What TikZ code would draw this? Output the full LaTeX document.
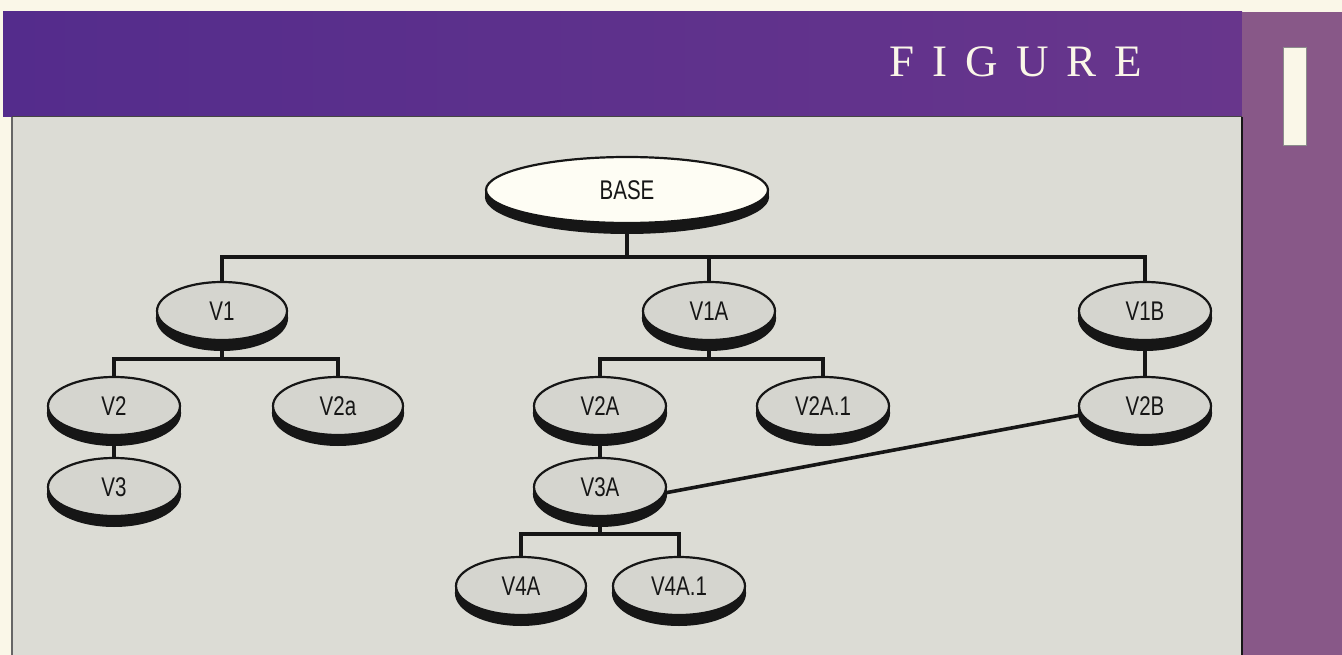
\documentclass[tikz,border=0pt]{standalone}
\usepackage{fontspec}
\usepackage{graphicx}
\usetikzlibrary{shapes.geometric}
\newfontfamily\labelfont{Liberation Sans}
\newfontfamily\figfont[LetterSpace=40]{Liberation Serif}
\newcommand{\narrow}[1]{\scalebox{0.76}[1]{#1}}
\definecolor{cream}{RGB}{250,247,232}
\definecolor{bandL}{RGB}{84,44,140}
\definecolor{bandR}{RGB}{104,54,140}
\definecolor{mauve}{RGB}{136,88,136}
\definecolor{panel}{RGB}{220,220,213}
\definecolor{ovalfill}{RGB}{213,213,207}
\definecolor{basefill}{RGB}{254,253,244}
\definecolor{ink}{RGB}{22,22,22}
\tikzset{
  ovalnode/.style={ellipse, draw=ink, line width=2.2pt, fill=ovalfill, inner sep=0pt,
    font=\labelfont\fontsize{27}{27}\selectfont, text=ink},
  conn/.style={draw=ink, line width=4pt},
}
% #1 name, #2 x, #3 y, #4 rx, #5 ry, #6 label, #7 fill
\newcommand{\ovalat}[7]{%
  \fill[ink] (#2-#4-1.1,#3) rectangle (#2+#4+1.1,#3+7);
  \fill[ink] (#2,#3+7) ellipse [x radius=#4+1.1, y radius=#5+4];
  \node[ovalnode, fill=#7, minimum width=2*#4 pt, minimum height=2*#5 pt] (#1) at (#2,#3) {\narrow{#6}};
}
\begin{document}
\begin{tikzpicture}[x=1pt,y=-1pt]
\useasboundingbox (0,0) rectangle (1342,655);
% background
\fill[cream] (0,0) rectangle (1342,655);
\shade[left color=bandL, right color=bandR] (3,12) rectangle (1242,117);
\fill[mauve] (1242,12) rectangle (1342,655);
\fill[panel] (12,117) rectangle (1242,655);
\draw[black!60, line width=1.2pt] (12,117) -- (12,655);
\draw[ink, line width=1.2pt] (1242,117) -- (1242,655);
\draw[ink!80, line width=1pt] (12,117) -- (1242,117);
\fill[cream, draw=black!45, line width=0.6pt] (1283,47) rectangle (1306,145);
\node[font=\figfont\fontsize{45}{45}\selectfont, text=cream, anchor=center] (title) at (1016,62) {FIGURE};
% nodes
\ovalat{BASE}{627}{190}{141}{33}{BASE}{basefill}
\ovalat{V1}{222}{311}{65}{29}{V1}{ovalfill}
\ovalat{V1A}{709}{311}{66}{29}{V1A}{ovalfill}
\ovalat{V1B}{1145}{311}{66}{29}{V1B}{ovalfill}
\ovalat{V2}{114}{406}{66}{29}{V2}{ovalfill}
\ovalat{V2a}{338}{406}{65}{29}{V2a}{ovalfill}
\ovalat{V2A}{600}{406}{66}{29}{V2A}{ovalfill}
\ovalat{V2A1}{823}{406}{66}{29}{V2A.1}{ovalfill}
\ovalat{V2B}{1145}{406}{66}{29}{V2B}{ovalfill}
\ovalat{V3}{114}{487}{66}{29}{V3}{ovalfill}
\ovalat{V3A}{600}{487}{66}{29}{V3A}{ovalfill}
\ovalat{V4A}{521}{586}{65}{29}{V4A}{ovalfill}
\ovalat{V4A1}{679}{586}{66}{29}{V4A.1}{ovalfill}
% bus coordinates
\coordinate (b0) at (627,257);
\coordinate (b1) at (222,359);
\coordinate (b2) at (709,359);
\coordinate (b3) at (600,534);
% connectors
\draw[conn] (BASE.south) -- (b0);
\draw[conn] (V1.north) |- (b0) -| (V1B.north);
\draw[conn] (V1A.north) -- (V1A.north |- b0);
\draw[conn] (V1.south) -- (b1);
\draw[conn] (V2.north) |- (b1) -| (V2a.north);
\draw[conn] (V1A.south) -- (b2);
\draw[conn] (V2A.north) |- (b2) -| (V2A1.north);
\draw[conn] (V2.south) -- (V3.north);
\draw[conn] (V2A.south) -- (V3A.north);
\draw[conn] (V1B.south) -- (V2B.north);
\draw[conn] (V3A.south) -- (b3);
\draw[conn] (V4A.north) |- (b3) -| (V4A1.north);
\draw[draw=ink, line width=3.6pt] (V3A.-5) -- (V2B.188);
\end{tikzpicture}
\end{document}
